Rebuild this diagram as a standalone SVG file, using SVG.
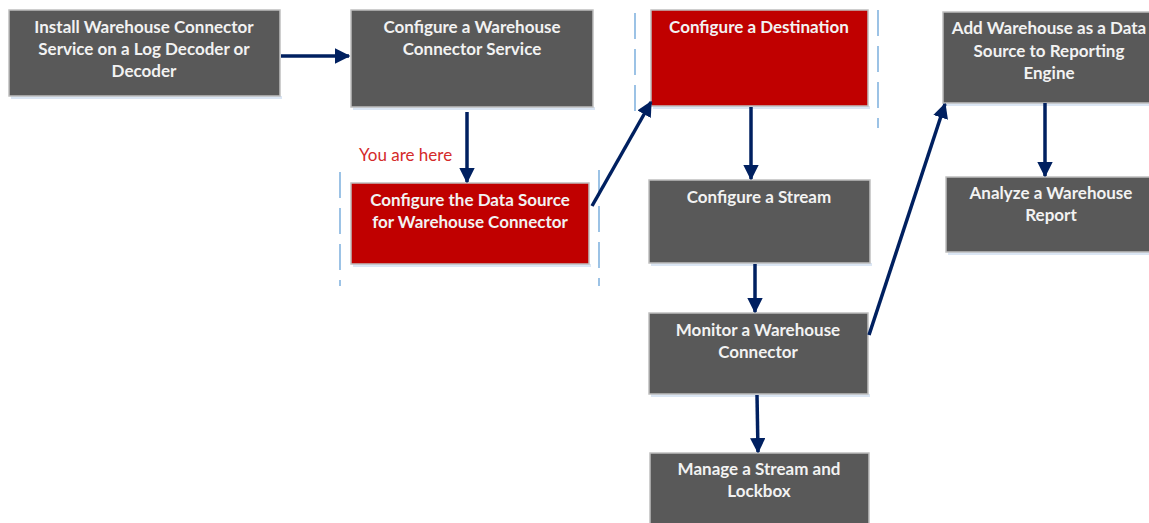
<svg xmlns="http://www.w3.org/2000/svg" width="1149" height="523" viewBox="0 0 1149 523">
<defs>
<marker id="ah" markerWidth="4.4" markerHeight="4.4" refX="4" refY="2.2" orient="auto" markerUnits="strokeWidth"><path d="M0,0 L4.4,2.2 L0,4.4 Z" fill="#002060"/></marker>
<style>
.box{stroke:#bfbfbf;stroke-width:1.5}
.grey{fill:#595959}
.red{fill:#c00000}
.sh{fill:#dbe6f4}
.t{font-family:Lato,"Open Sans",sans-serif;font-weight:bold;font-size:17px;fill:#f2f2f2;text-anchor:middle}
.c{stroke:#002060;stroke-width:3.5;fill:none;marker-end:url(#ah)}
.d{stroke:#5b9bd5;stroke-width:1.2;stroke-dasharray:26 10;fill:none}
</style>
</defs>
<rect width="1149" height="523" fill="#ffffff"/>
<g id="guides">
<line class="d" x1="340" y1="172" x2="340" y2="286"/>
<line class="d" x1="599" y1="170" x2="599" y2="286"/>
<line class="d" x1="635" y1="13" x2="635" y2="114"/>
<line class="d" x1="878" y1="10" x2="878" y2="128"/>
</g>
<g id="n1"><rect class="sh" x="11" y="96" width="271" height="3"/><rect class="box grey" x="9" y="10" width="271" height="86"/>
<text class="t" x="144" y="33">Install Warehouse Connector</text><text class="t" x="144" y="55">Service on a Log Decoder or</text><text class="t" x="144" y="77">Decoder</text></g>
<g id="n2"><rect class="sh" x="353" y="107" width="242" height="3"/><rect class="box grey" x="351" y="10" width="242" height="97"/>
<text class="t" x="472" y="33">Configure a Warehouse</text><text class="t" x="472" y="55">Connector Service</text></g>
<g id="n3"><rect class="sh" x="353" y="264" width="238" height="3"/><rect class="box red" x="351" y="183" width="238" height="81"/>
<text class="t" x="470" y="206">Configure the Data Source</text><text class="t" x="470" y="228">for Warehouse Connector</text></g>
<text x="359" y="161" font-family="Lato,'Open Sans',sans-serif" font-size="17" fill="#d42a2a">You are here</text>
<g id="n4"><rect class="sh" x="653" y="106" width="217" height="3"/><rect class="box red" x="651" y="10" width="217" height="96"/>
<text class="t" x="759" y="33">Configure a Destination</text></g>
<g id="n5"><rect class="sh" x="651" y="263" width="221" height="3"/><rect class="box grey" x="649" y="180" width="221" height="83"/>
<text class="t" x="759" y="203">Configure a Stream</text></g>
<g id="n6"><rect class="sh" x="651" y="394" width="219" height="3"/><rect class="box grey" x="649" y="313" width="219" height="81"/>
<text class="t" x="758" y="336">Monitor a Warehouse</text><text class="t" x="758" y="358">Connector</text></g>
<g id="n7"><rect class="box grey" x="650" y="453" width="219" height="75"/>
<text class="t" x="759" y="475">Manage a Stream and</text><text class="t" x="759" y="497">Lockbox</text></g>
<g id="n8"><rect class="sh" x="945" y="103" width="210" height="3"/><rect class="box grey" x="943" y="12" width="212" height="91"/>
<text class="t" x="1049" y="34">Add Warehouse as a Data</text><text class="t" x="1049" y="57">Source to Reporting</text><text class="t" x="1049" y="79">Engine</text></g>
<g id="n9"><rect class="sh" x="948" y="252" width="210" height="3"/><rect class="box grey" x="946" y="177" width="210" height="75"/>
<text class="t" x="1051" y="199">Analyze a Warehouse</text><text class="t" x="1051" y="221">Report</text></g>
<g id="connectors">
<line class="c" x1="281" y1="56" x2="349" y2="56"/>
<line class="c" x1="467" y1="112" x2="467" y2="182"/>
<line class="c" x1="592" y1="206" x2="651" y2="102"/>
<line class="c" x1="751" y1="107" x2="751" y2="179"/>
<line class="c" x1="755" y1="264" x2="755" y2="312"/>
<line class="c" x1="757" y1="395" x2="758" y2="452"/>
<line class="c" x1="869" y1="335" x2="945" y2="104"/>
<line class="c" x1="1045" y1="103" x2="1045" y2="176"/>
</g>
</svg>
